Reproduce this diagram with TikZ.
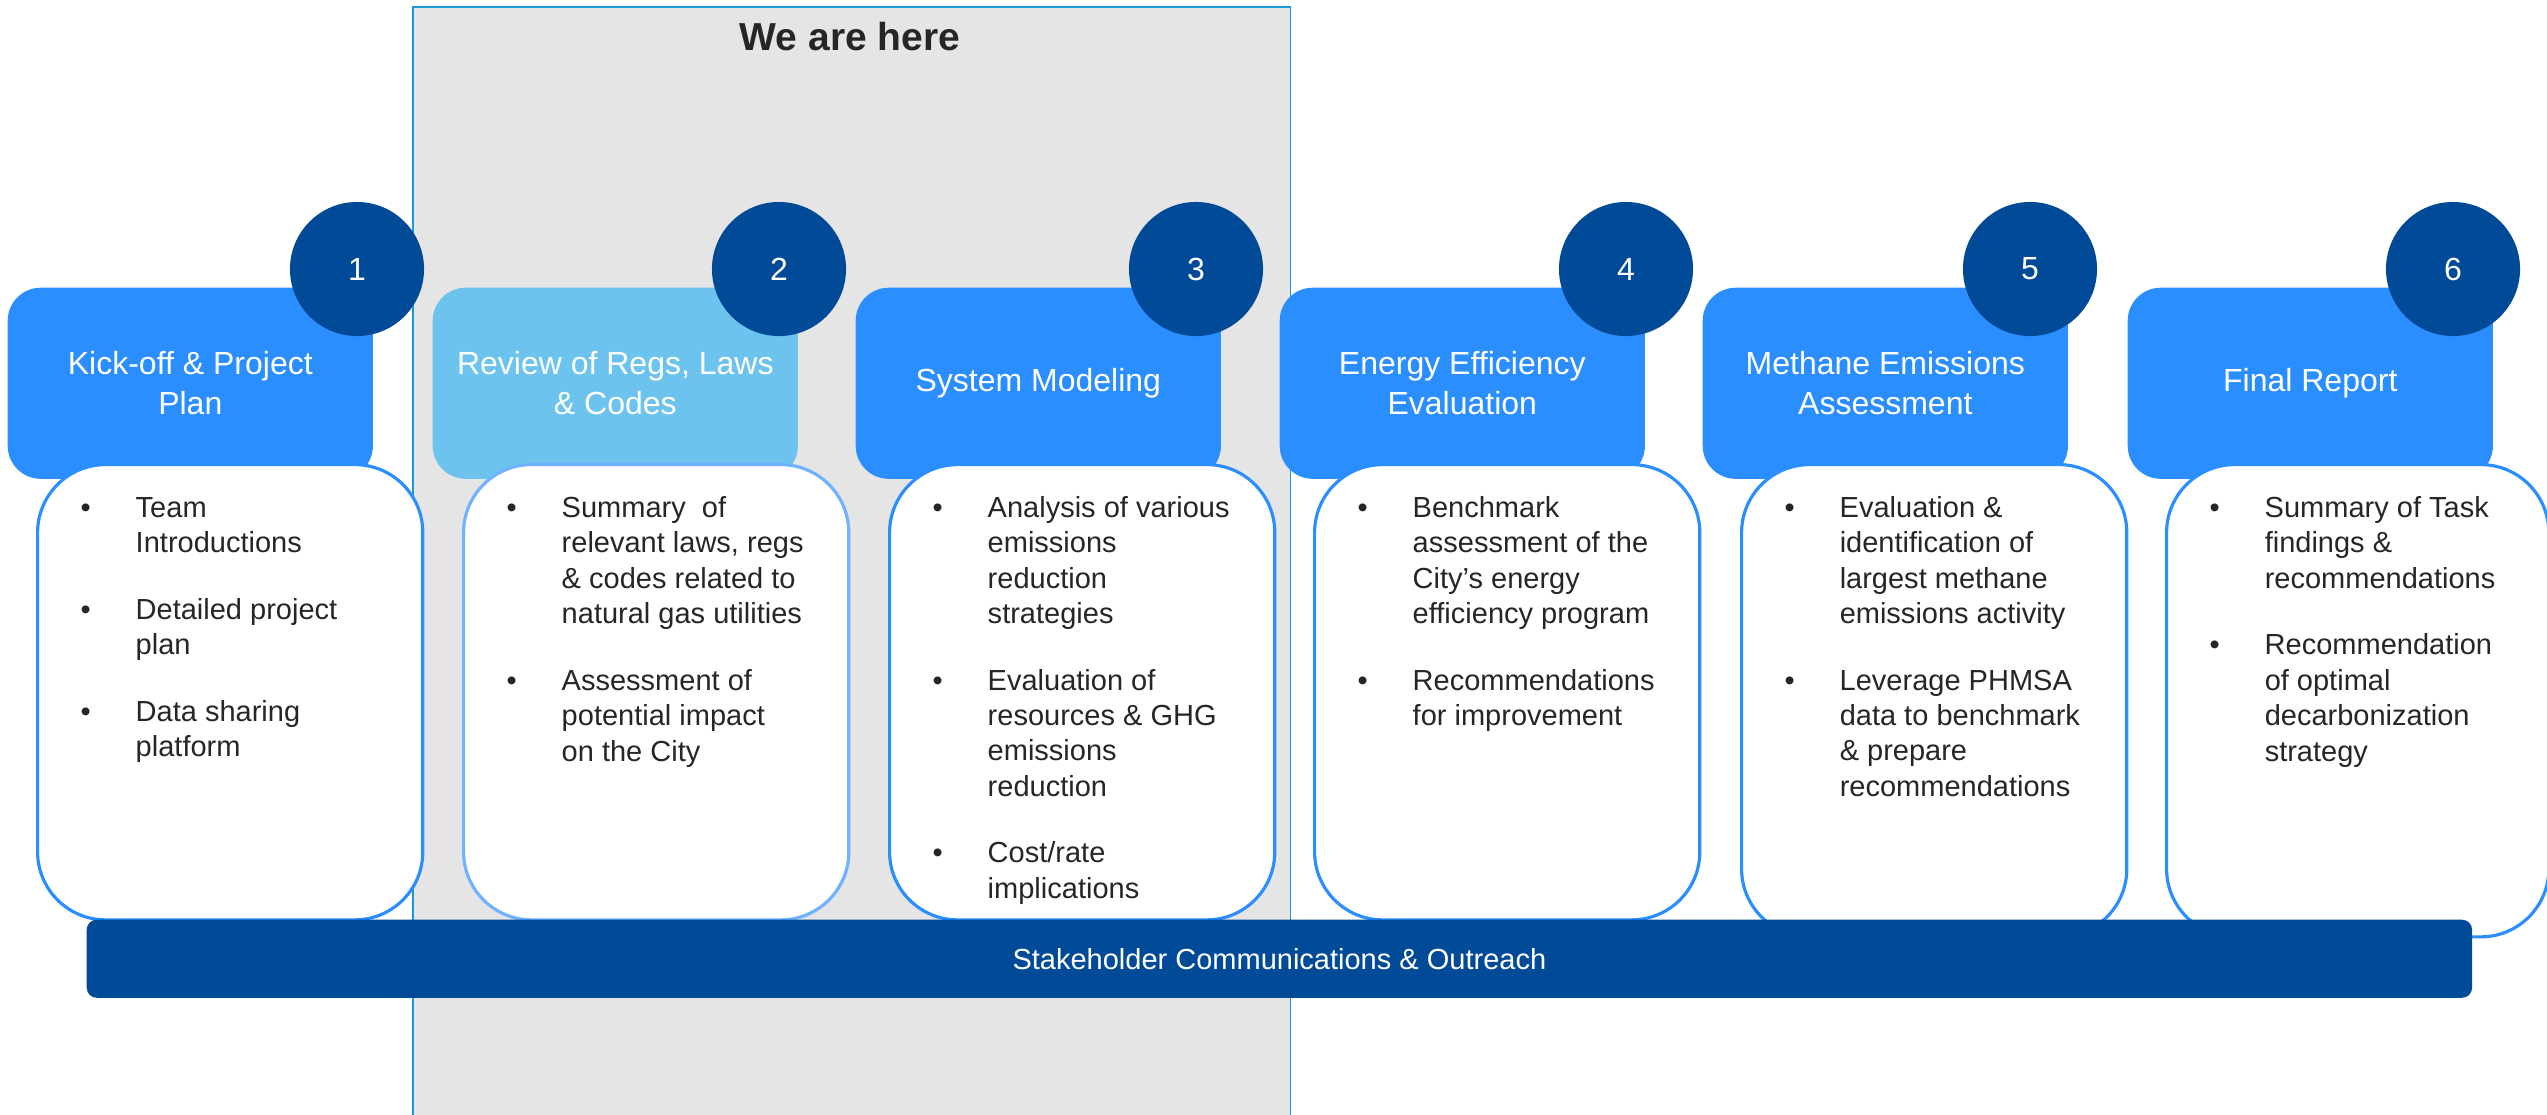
\documentclass[tikz,border=0pt]{standalone}
\usepackage{fontspec}
\setmainfont{Liberation Sans}
\usetikzlibrary{positioning}

\definecolor{headblue}{RGB}{42,142,255}
\definecolor{headlight}{RGB}{108,196,238}
\definecolor{darkblue}{RGB}{0,74,152}
\definecolor{panelgrey}{RGB}{229,229,229}
\definecolor{panelline}{RGB}{30,155,215}
\definecolor{itemtext}{RGB}{38,38,38}
\definecolor{lightline}{RGB}{112,178,255}

% bullet list of one card, lines broken by hand
\newcommand{\cardlist}[1]{{\fontsize{8.25pt}{10.07pt}\selectfont
  \begin{tabular}{@{}p{0.55cm}@{}l@{}}#1\end{tabular}}}

\begin{document}
\begin{tikzpicture}[x=0.01cm, y=-0.01cm,
    headbox/.style={anchor=north west, fill=headblue, rounded corners=0.33cm,
      minimum width=3.65cm, minimum height=1.91cm, align=center, text=white,
      font=\fontsize{9.1pt}{11.4pt}\selectfont},
    card/.style={anchor=north west, draw=headblue, line width=0.9pt, fill=white,
      rounded corners=0.68cm, minimum width=3.85cm, minimum height=4.55cm},
    numdot/.style={circle, fill=darkblue, minimum size=1.34cm, inner sep=0pt,
      text=white, font=\fontsize{9.1pt}{11pt}\selectfont},
    itemlist/.style={anchor=north west, inner sep=0pt, text=itemtext}]
    \useasboundingbox (0,0) rectangle (2547,1114);

    % the grey "we are here" panel
    \node[anchor=north west, fill=panelgrey, draw=panelline, line width=0.45pt,
      minimum width=8.77cm, minimum height=11.3cm] (panel) at (412,6) {};
    \node[text=itemtext, font=\bfseries\fontsize{11.1pt}{13pt}\selectfont] (herelabel) at (850,37) {We are here};

    % task headers
    \node[headbox] (head1) at (7,287) {Kick-off \& Project\\Plan};
    \node[headbox, fill=headlight] (head2) at (432,287) {Review of Regs, Laws\\\& Codes};
    \node[headbox] (head3) at (855,287) {System Modeling};
    \node[headbox] (head4) at (1279,287) {Energy Efficiency\\Evaluation};
    \node[headbox] (head5) at (1702,287) {Methane Emissions\\Assessment};
    \node[headbox] (head6) at (2127,287) {Final Report};

    % cards
    \node[card] (card1) at (36,463) {};
    \node[card, draw=lightline] (card2) at (462,463) {};
    \node[card] (card3) at (888,463) {};
    \node[card] (card4) at (1313,463) {};
    \node[card, minimum height=4.72cm] (card5) at (1740,463) {};
    \node[card, minimum height=4.72cm, minimum width=3.82cm] (card6) at (2165,463) {};

    % numbers
    \node[numdot] (num1) at (357,269) {1};
    \node[numdot] (num2) at (779,269) {2};
    \node[numdot] (num3) at (1196,269) {3};
    \node[numdot] (num4) at (1626,269) {4};
    \node[numdot] (num5) at (2030,269) {5};
    \node[numdot] (num6) at (2453,269) {6};

    % card contents
    \node[itemlist] (list1) at (80,492) {\cardlist{
      \textbullet & Team\\ & Introductions\\[0.31cm]
      \textbullet & Detailed project\\ & plan\\[0.31cm]
      \textbullet & Data sharing\\ & platform}};
    \node[itemlist] (list2) at (506,492) {\cardlist{
      \textbullet & Summary\ \ of\\ & relevant laws, regs\\ & \& codes related to\\ & natural gas utilities\\[0.31cm]
      \textbullet & Assessment of\\ & potential impact\\ & on the City}};
    \node[itemlist] (list3) at (932,492) {\cardlist{
      \textbullet & Analysis of various\\ & emissions\\ & reduction\\ & strategies\\[0.31cm]
      \textbullet & Evaluation of\\ & resources \& GHG\\ & emissions\\ & reduction\\[0.31cm]
      \textbullet & Cost/rate\\ & implications}};
    \node[itemlist] (list4) at (1357,492) {\cardlist{
      \textbullet & Benchmark\\ & assessment of the\\ & City’s energy\\ & efficiency program\\[0.31cm]
      \textbullet & Recommendations\\ & for improvement}};
    \node[itemlist] (list5) at (1784,492) {\cardlist{
      \textbullet & Evaluation \&\\ & identification of\\ & largest methane\\ & emissions activity\\[0.31cm]
      \textbullet & Leverage PHMSA\\ & data to benchmark\\ & \& prepare\\ & recommendations}};
    \node[itemlist] (list6) at (2209,492) {\cardlist{
      \textbullet & Summary of Task\\ & findings \&\\ & recommendations\\[0.31cm]
      \textbullet & Recommendation\\ & of optimal\\ & decarbonization\\ & strategy}};

    % outreach band across all tasks
    \node[anchor=north west, fill=darkblue, rounded corners=0.1cm, minimum width=23.84cm,
      minimum height=0.78cm, text=white, font=\fontsize{8.25pt}{10pt}\selectfont]
      (band) at (86,919) {Stakeholder Communications \& Outreach};
\end{tikzpicture}
\end{document}
